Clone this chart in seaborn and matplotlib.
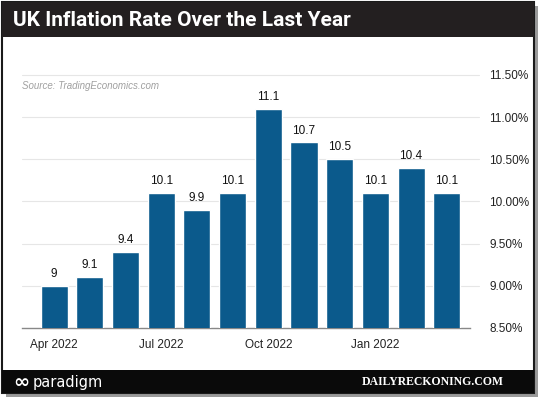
import matplotlib
matplotlib.use("Agg")
import matplotlib.pyplot as plt
import seaborn as sns
import pandas as pd
from matplotlib.patches import Rectangle

months = ["Mar 2022", "Apr 2022", "May 2022", "Jun 2022", "Jul 2022", "Aug 2022",
          "Sep 2022", "Oct 2022", "Nov 2022", "Dec 2022", "Jan 2022", "Feb 2022"]
rates = [9.0, 9.1, 9.4, 10.1, 9.9, 10.1, 11.1, 10.7, 10.5, 10.1, 10.4, 10.1]
value_labels = ["9", "9.1", "9.4", "10.1", "9.9", "10.1", "11.1", "10.7", "10.5", "10.1", "10.4", "10.1"]
tick_positions = [0, 3, 6, 9]
tick_labels = ["Apr 2022", "Jul 2022", "Oct 2022", "Jan 2022"]
y_ticks = [8.5, 9.0, 9.5, 10.0, 10.5, 11.0, 11.5]

df = pd.DataFrame({"month": months, "rate": rates})

sns.set_theme(style="white")
plt.rcParams["font.family"] = ["Liberation Sans", "DejaVu Sans"]

W, H = 540, 399
fig = plt.figure(figsize=(W / 100, H / 100), dpi=100)
fig.patch.set_facecolor("white")

def px(x0, y0, x1, y1):
    return [x0 / W, 1 - y1 / H, (x1 - x0) / W, (y1 - y0) / H]

# shadow
sh = px(6, 6, 538, 397)
fig.patches.append(Rectangle((sh[0], sh[1]), sh[2], sh[3], transform=fig.transFigure,
                             facecolor="#9a9a9a", edgecolor="none", zorder=0))
# frame
fr = px(2, 2, 534, 393)
fig.patches.append(Rectangle((fr[0], fr[1]), fr[2], fr[3], transform=fig.transFigure,
                             facecolor="white", edgecolor="#1a1a1a", linewidth=1.5, zorder=1))
# title bar
tb = px(2, 2, 534, 37)
fig.patches.append(Rectangle((tb[0], tb[1]), tb[2], tb[3], transform=fig.transFigure,
                             facecolor="#231f20", edgecolor="none", zorder=2))
# footer bar
fb = px(2, 370, 534, 393)
fig.patches.append(Rectangle((fb[0], fb[1]), fb[2], fb[3], transform=fig.transFigure,
                             facecolor="#0a0a0a", edgecolor="none", zorder=2))

fig.text(13 / W, 1 - 20 / H, "UK Inflation Rate Over the Last Year", color="white",
         fontsize=15, fontweight="bold", va="center", ha="left", zorder=3,
         family=["Roboto", "DejaVu Sans"])
fig.text(13 / W, 1 - 382 / H, "∞", color="white", fontsize=14,
         va="center", ha="left", zorder=3, family=["DejaVu Sans"], fontweight="bold")
fig.text(33 / W, 1 - 382 / H, "paradigm", color="white", fontsize=10.5,
         va="center", ha="left", zorder=3, family=["DejaVu Sans"])
fig.text(504 / W, 1 - 382 / H, "DAILYRECKONING.COM", color="white", fontsize=8.5,
         va="center", ha="right", zorder=3, family=["Liberation Serif"], fontweight="bold")

# axes: y=8.5 at 328 px, 11.5 at 75 px
ppu = (328 - 75) / 3.0
ytop = 11.62
ax_top_px = 328 - (ytop - 8.5) * ppu
ax = fig.add_axes(px(22, ax_top_px, 470, 328))
ax.set_zorder(5)
ax.patch.set_alpha(0)

sns.barplot(data=df, x="month", y="rate", color="#0b5a8c", width=0.76,
            saturation=1, ax=ax, zorder=3)
ax.set_ylim(8.5, ytop)
ax.set_xlim(-0.9, 11.65)

for i, (v, lab) in enumerate(zip(rates, value_labels)):
    ax.text(i, v + 0.07, lab, ha="center", va="bottom", fontsize=8.5, color="#111111")

ax.yaxis.tick_right()
ax.set_yticks(y_ticks)
ax.set_yticklabels([f"{t:.2f}%" for t in y_ticks], fontsize=8.5, color="#222222")
ax.set_xticks(tick_positions)
ax.set_xticklabels(tick_labels, fontsize=8.5, color="#222222")
ax.tick_params(axis="both", length=0, pad=8)
ax.tick_params(axis="y", pad=14)
ax.set_xlabel("")
ax.set_ylabel("")
for t in y_ticks[1:]:
    ax.axhline(t, color="#e6e6e6", linewidth=0.8, zorder=1, xmax=1.02, clip_on=False)
for s in ["top", "right", "left"]:
    ax.spines[s].set_visible(False)
ax.spines["bottom"].set_color("#888888")
ax.spines["bottom"].set_linewidth(1.0)

ax.text(0.0, 1 - (86 - ax_top_px) / (328 - ax_top_px), "Source: TradingEconomics.com",
        transform=ax.transAxes, fontsize=7, style="italic", color="#a0a0a0",
        ha="left", va="center")

fig.savefig("out.png", dpi=100)
